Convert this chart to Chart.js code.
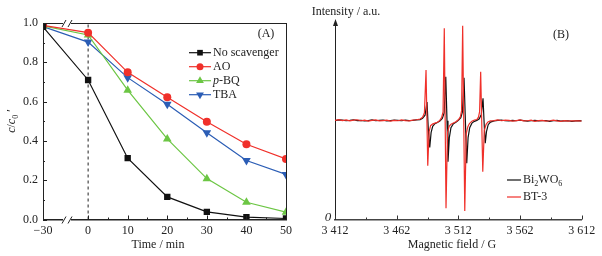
<!DOCTYPE html>
<html>
<head>
<meta charset="utf-8">
<script src="https://cdn.jsdelivr.net/npm/chart.js@4"></script>
<style>
body { margin: 0; background: #fff; }
#wrap { width: 602px; height: 256px; display: flex; }
canvas { display: block; }
</style>
</head>
<body>
<div id="wrap">
<canvas id="chartA" width="300" height="256"></canvas>
<canvas id="chartB" width="302" height="256"></canvas>
</div>
<script>
// panel (A): scavenger test
var timeMin = [-30, 0, 10, 20, 30, 40, 50];
var noScavenger = [0.98, 0.71, 0.312, 0.115, 0.039, 0.012, 0.005];
var aoData = [0.988, 0.951, 0.749, 0.622, 0.497, 0.383, 0.308];
var pbqData = [0.985, 0.939, 0.658, 0.41, 0.208, 0.088, 0.037];
var tbaData = [0.982, 0.903, 0.722, 0.586, 0.441, 0.3, 0.229];
var timeTicks = [-30, 0, 10, 20, 30, 40, 50];
var timeMinor = [5, 15, 25, 35, 45];
var ratioTicks = [0, 0.2, 0.4, 0.6, 0.8, 1.0];
var ratioMinor = [0.1, 0.3, 0.5, 0.7, 0.9];

// panel (B): EPR spectra
var fieldBT = [3412, 3415, 3418, 3421, 3424, 3427, 3430, 3433, 3436, 3439, 3442, 3445, 3448, 3451, 3454, 3457, 3460, 3463, 3466, 3469, 3472, 3475, 3478, 3481,
  3483, 3484.5, 3485.8, 3487.2, 3488.3, 3489.5, 3491, 3493, 3495, 3497, 3498.5, 3499.6, 3500.6, 3502, 3503.2, 3504.5, 3506, 3508, 3510, 3512,
  3513.6, 3514.6, 3515.5, 3517.2, 3518.4, 3519.7, 3521, 3523, 3525, 3527, 3528.3, 3529.2, 3530.1, 3531.8, 3533, 3534.5, 3536, 3538, 3541,
  3544, 3547, 3550, 3553, 3556, 3559, 3562, 3565, 3568, 3571, 3574, 3577, 3580, 3583, 3586, 3589, 3592, 3595, 3598, 3601, 3604, 3607, 3610, 3612];
var intensityBT = [50.2, 50.6, 50.1, 50.4, 49.9, 50.3, 50.5, 50.0, 50.3, 49.8, 50.2, 50.4, 49.9, 50.1, 50.3, 49.8, 50.2, 50.0, 50.4, 50.1, 49.9, 50.3, 50.5, 50.9,
  51.8, 54, 75.7, 27.2, 44.5, 47.5, 48.3, 48.8, 49.2, 50.2, 51.8, 54.5, 96.8, 5.7, 44, 47.2, 48.2, 48.9, 49.5, 50.5,
  52, 55, 98.1, 4.3, 43.5, 47, 48.6, 49.8, 50.4, 50.6, 51.8, 54.5, 74.8, 24.2, 45, 48.2, 49.4, 49.9, 50.1,
  50.4, 50.0, 50.3, 50.2, 49.8, 50.1, 50.4, 49.9, 50.0, 50.3, 49.7, 50.1, 50.2, 49.8, 50.0, 50.3, 49.9, 49.7, 50.1, 49.8, 50.0, 49.9, 50.0, 49.8];
var fieldBW = [3412, 3415, 3418, 3421, 3424, 3427, 3430, 3433, 3436, 3439, 3442, 3445, 3448, 3451, 3454, 3457, 3460, 3463, 3466, 3469, 3472, 3475, 3478, 3481,
  3483, 3485, 3486.6, 3487.7, 3488.8, 3489.9, 3491.2, 3493, 3495, 3497, 3499, 3500.5, 3501.8, 3502.8, 3503.6, 3504.7, 3506, 3508, 3510, 3512,
  3514, 3515.3, 3516.6, 3517.7, 3518.8, 3519.9, 3521.2, 3523, 3525, 3527, 3529, 3530.6, 3532, 3533, 3533.8, 3534.8, 3536.2, 3538, 3541,
  3544, 3547, 3550, 3553, 3556, 3559, 3562, 3565, 3568, 3571, 3574, 3577, 3580, 3583, 3586, 3589, 3592, 3595, 3598, 3601, 3604, 3607, 3610, 3612];
var intensityBW = [50.0, 50.4, 50.3, 50.0, 50.2, 50.5, 50.1, 50.2, 49.9, 50.1, 50.4, 50.0, 50.2, 50.3, 49.9, 50.1, 50.3, 50.2, 50.0, 50.3, 50.1, 50.2, 50.4, 50.6,
  51.2, 52.8, 59.5, 45, 36.5, 44, 47.2, 48.5, 49.1, 49.9, 51.2, 54, 72.3, 50, 29.3, 41.5, 46.5, 48.5, 49.3, 50.2,
  51.6, 54.5, 71.8, 50, 28.5, 41.5, 46.5, 48.8, 49.7, 50.2, 51, 53.2, 61.4, 47.5, 38.6, 44.5, 48, 49.3, 49.9,
  50.2, 50.3, 50.0, 49.9, 50.2, 50.0, 50.3, 50.1, 49.8, 50.0, 50.2, 49.9, 50.0, 50.1, 49.7, 50.0, 50.2, 49.8, 49.9, 50.0, 49.7, 49.9, 50.1, 49.9];
var fieldTicks = [3412, 3462, 3512, 3562, 3612];
var fieldMinor = [3437, 3487, 3537, 3587];

var serif = "'Liberation Serif', 'DejaVu Serif', serif";
var fs = 12;
Chart.defaults.font.family = serif;
Chart.defaults.font.size = fs;
Chart.defaults.color = '#222';

var cBlack = '#111111', cRed = '#f0302a', cGreen = '#6cc644', cBlue = '#2b5db5';

// broken time axis: -30..0 is squeezed
function axisPos(t) { return t < 0 ? t * 0.38 : t; }

function partFont(p, size) {
  return (p.italic ? 'italic ' : '') + (p.sub ? Math.round(size * 0.7) : size) + 'px ' + serif;
}
function drawParts(ctx, parts, x, y, size, align) {
  var w = 0;
  parts.forEach(function (p) { ctx.font = partFont(p, size); w += ctx.measureText(p.t).width; });
  var cx = align === 'center' ? x - w / 2 : x;
  ctx.textAlign = 'left';
  ctx.textBaseline = 'middle';
  parts.forEach(function (p) {
    ctx.font = partFont(p, size);
    ctx.fillText(p.t, cx, y + (p.sub ? size * 0.3 : 0));
    cx += ctx.measureText(p.t).width;
  });
}
function inwardTicks(ctx, chart, xVals, yVals, len) {
  var a = chart.chartArea, sx = chart.scales.x, sy = chart.scales.y;
  ctx.beginPath();
  xVals.forEach(function (v) {
    var px = Math.round(sx.getPixelForValue(v)) + 0.5;
    ctx.moveTo(px, a.bottom); ctx.lineTo(px, a.bottom - len);
  });
  (yVals || []).forEach(function (v) {
    var py = Math.round(sy.getPixelForValue(v)) + 0.5;
    ctx.moveTo(a.left, py); ctx.lineTo(a.left + len, py);
  });
  ctx.stroke();
}

var seriesA = [
  { label: 'No scavenger', data: noScavenger, color: cBlack, style: 'rect', r: 4.5, rot: 0, parts: [{ t: 'No scavenger' }] },
  { label: 'AO', data: aoData, color: cRed, style: 'circle', r: 4, rot: 0, parts: [{ t: 'AO' }] },
  { label: 'p-BQ', data: pbqData, color: cGreen, style: 'triangle', r: 5, rot: 0, parts: [{ t: 'p', italic: true }, { t: '-BQ' }] },
  { label: 'TBA', data: tbaData, color: cBlue, style: 'triangle', r: 5, rot: 180, parts: [{ t: 'TBA' }] }
];

var decorA = {
  id: 'decorA',
  beforeDatasetsDraw: function (chart) {
    var ctx = chart.ctx, a = chart.chartArea;
    var px = chart.scales.x.getPixelForValue(0);
    ctx.save();
    ctx.strokeStyle = '#222';
    ctx.lineWidth = 1;
    ctx.setLineDash([3, 3]);
    ctx.beginPath();
    ctx.moveTo(px, a.bottom); ctx.lineTo(px, a.top);
    ctx.stroke();
    ctx.restore();
  },
  afterDraw: function (chart) {
    var ctx = chart.ctx, a = chart.chartArea;
    ctx.save();
    ctx.strokeStyle = '#222';
    ctx.lineWidth = 1;
    ctx.strokeRect(a.left + 0.5, a.top + 0.5, a.right - a.left, a.bottom - a.top);
    inwardTicks(ctx, chart, timeTicks.slice(1).map(axisPos), ratioTicks, 4);
    inwardTicks(ctx, chart, timeMinor, ratioMinor, 2);

    // axis break marks
    var bx = 67;
    [a.top + 0.5, a.bottom + 0.5].forEach(function (y) {
      ctx.fillStyle = '#fff';
      ctx.fillRect(bx - 4, y - 1.5, 8, 3);
      ctx.beginPath();
      ctx.moveTo(bx - 5, y + 3.5); ctx.lineTo(bx - 1, y - 3.5);
      ctx.moveTo(bx + 1, y + 3.5); ctx.lineTo(bx + 5, y - 3.5);
      ctx.stroke();
    });

    // legend
    ctx.fillStyle = '#222';
    seriesA.forEach(function (s, i) {
      var y = 52.7 + i * 14;
      ctx.strokeStyle = s.color;
      ctx.lineWidth = 1.2;
      ctx.beginPath(); ctx.moveTo(189, y); ctx.lineTo(211, y); ctx.stroke();
      ctx.fillStyle = s.color;
      Chart.helpers.drawPoint(ctx, { pointStyle: s.style, radius: s.r - 0.5, rotation: s.rot, borderWidth: 0 }, 200, y);
      ctx.fillStyle = '#222';
      drawParts(ctx, s.parts, 213, y, fs, 'left');
    });
    drawParts(ctx, [{ t: '(A)' }], 266, 34, fs, 'center');

    // axis titles
    drawParts(ctx, [{ t: 'Time / min' }], 158, 245, fs, 'center');
    ctx.translate(12, 121);
    ctx.rotate(-Math.PI / 2);
    drawParts(ctx, [{ t: 'c', italic: true }, { t: '/' }, { t: 'c', italic: true }, { t: '0', sub: true }, { t: ' \u2032' }], 0, 0, fs, 'center');
    ctx.restore();
  }
};

new Chart(document.getElementById('chartA'), {
  type: 'line',
  data: {
    datasets: seriesA.map(function (s) {
      return {
        label: s.label,
        data: timeMin.map(function (t, i) { return { x: axisPos(t), y: s.data[i] }; }),
        borderColor: s.color,
        backgroundColor: s.color,
        borderWidth: 1.2,
        pointStyle: s.style,
        pointRadius: s.r,
        pointRotation: s.rot,
        pointBorderWidth: 0,
        tension: 0
      };
    })
  },
  options: {
    responsive: false,
    animation: false,
    layout: { padding: { top: 23, right: 14, left: 0, bottom: 0 } },
    plugins: { legend: { display: false }, tooltip: { enabled: false } },
    scales: {
      x: {
        type: 'linear',
        min: axisPos(-30),
        max: 50,
        grid: { display: false, drawTicks: false },
        border: { display: true, color: '#222', width: 1 },
        afterBuildTicks: function (s) { s.ticks = timeTicks.map(function (t) { return { value: axisPos(t) }; }); },
        afterFit: function (s) { s.height = 36.5; },
        ticks: {
          padding: 4,
          maxRotation: 0,
          callback: function (v, i) { return String(timeTicks[i]).replace('-', '\u2212'); }
        }
      },
      y: {
        min: 0,
        max: 1,
        grid: { display: false, drawTicks: false },
        border: { display: true, color: '#222', width: 1 },
        afterBuildTicks: function (s) { s.ticks = ratioTicks.map(function (v) { return { value: v }; }); },
        afterFit: function (s) { s.width = 43; },
        ticks: { padding: 5, callback: function (v) { return v.toFixed(1); } }
      }
    }
  },
  plugins: [decorA]
});

var seriesB = [
  { label: 'Bi2WO6', color: cBlack, parts: [{ t: 'Bi' }, { t: '2', sub: true }, { t: 'WO' }, { t: '6', sub: true }] },
  { label: 'BT-3', color: cRed, parts: [{ t: 'BT-3' }] }
];

var decorB = {
  id: 'decorB',
  afterDraw: function (chart) {
    var ctx = chart.ctx, a = chart.chartArea;
    ctx.save();
    ctx.strokeStyle = '#333';
    ctx.lineWidth = 1;
    inwardTicks(ctx, chart, fieldTicks, null, 4);
    inwardTicks(ctx, chart, fieldMinor, null, 2);
    // arrow on the intensity axis
    ctx.fillStyle = '#222';
    ctx.beginPath();
    ctx.moveTo(a.left + 0.5, a.top - 3);
    ctx.lineTo(a.left - 2, a.top + 4);
    ctx.lineTo(a.left + 3, a.top + 4);
    ctx.closePath();
    ctx.fill();
    drawParts(ctx, [{ t: 'Intensity / a.u.' }], 46, 12, fs, 'center');
    drawParts(ctx, [{ t: '0', italic: true }], 28, 218, fs + 1, 'center');
    drawParts(ctx, [{ t: '(B)' }], 261, 35, fs, 'center');
    drawParts(ctx, [{ t: 'Magnetic field / G' }], 152, 245, fs, 'center');
    seriesB.forEach(function (s, i) {
      var y = 180 + i * 17;
      ctx.strokeStyle = s.color;
      ctx.lineWidth = 1.2;
      ctx.beginPath(); ctx.moveTo(207, y); ctx.lineTo(221, y); ctx.stroke();
      ctx.fillStyle = '#222';
      drawParts(ctx, s.parts, 223, y, fs, 'left');
    });
    ctx.restore();
  }
};

new Chart(document.getElementById('chartB'), {
  type: 'line',
  data: {
    datasets: [
      {
        label: 'BT-3',
        data: fieldBT.map(function (f, i) { return { x: f, y: intensityBT[i] }; }),
        borderColor: cRed,
        borderWidth: 1.2,
        pointRadius: 0,
        tension: 0
      },
      {
        label: 'Bi2WO6',
        data: fieldBW.map(function (f, i) { return { x: f, y: intensityBW[i] }; }),
        borderColor: cBlack,
        borderWidth: 1.2,
        pointRadius: 0,
        tension: 0
      }
    ]
  },
  options: {
    responsive: false,
    animation: false,
    layout: { padding: { top: 22, right: 20.3, left: 0, bottom: 0 } },
    plugins: { legend: { display: false }, tooltip: { enabled: false } },
    scales: {
      x: {
        type: 'linear',
        min: 3412,
        max: 3612,
        grid: { display: false, drawTicks: false },
        border: { display: true, color: '#444', width: 1.5 },
        afterBuildTicks: function (s) { s.ticks = fieldTicks.map(function (v) { return { value: v }; }); },
        afterFit: function (s) { s.height = 36.5; },
        ticks: {
          padding: 4,
          maxRotation: 0,
          callback: function (v) { return String(v).replace(/^(\d)(\d{3})$/, '$1 $2'); }
        }
      },
      y: {
        min: 0,
        max: 100,
        grid: { display: false, drawTicks: false },
        border: { display: true, color: '#222', width: 1 },
        ticks: { display: false },
        afterFit: function (s) { s.width = 35; }
      }
    }
  },
  plugins: [decorB]
});
</script>
</body>
</html>
